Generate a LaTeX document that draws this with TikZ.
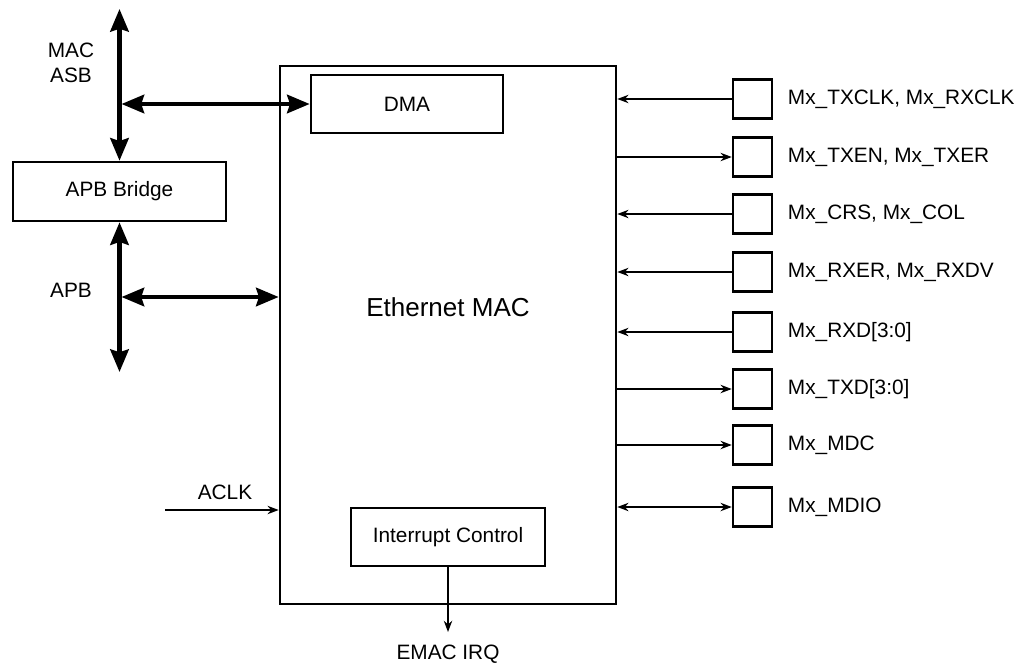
\documentclass[tikz,border=0pt]{standalone}
\usepackage{fontspec}
\setmainfont{Liberation Sans}
\usetikzlibrary{arrows.meta}

\begin{document}
\begin{tikzpicture}[
  x=0.025cm, y=-0.025cm,
  box/.style={draw, line width=1.8pt, inner sep=0pt, font=\fontsize{14.8}{17.8}\selectfont},
  pin/.style={draw, line width=1.8pt, minimum size=0.975cm, inner sep=0pt},
  lbl/.style={font=\fontsize{14.8}{17.8}\selectfont, align=center},
  bus/.style={line width=3.2pt, >={Stealth[length=16pt,width=13pt,inset=2pt]}, <->},
  sig/.style={line width=0.9pt, >={Stealth[length=8pt,width=6pt]}},
  rx/.style={<-}, tx/.style={->}, bidir/.style={<->}
]
\useasboundingbox (0,0) rectangle (1036,664);

\node[box, minimum width=8.4cm, minimum height=13.45cm] (mac) at (448,335) {};
\node[font=\fontsize{18.5}{22}\selectfont] (macname) at (448,307) {Ethernet MAC};
\node[box, minimum width=4.8cm, minimum height=1.45cm] (dma) at (407,104) {DMA};
\node[box, minimum width=4.85cm, minimum height=1.45cm] (irq) at (448,537) {Interrupt Control};
\node[box, minimum width=5.33cm, minimum height=1.475cm] (bridge) at (119.5,191.5) {APB Bridge};

\node[lbl] (asblbl) at (71,63) {MAC\\ASB};
\node[lbl] (apblbl) at (71,290) {APB};
\node[lbl] (aclklbl) at (225,492) {ACLK};
\node[lbl] (irqlbl) at (448,654) {EMAC IRQ};

\coordinate (asbtop) at (119.5,9);
\coordinate (asbjoin) at (121.5,104);
\coordinate (apbbot) at (119.5,372);
\coordinate (apbjoin) at (121.5,297);
\coordinate (aclkin) at (165,510);
\coordinate (irqout) at (448,632);

\draw[bus] (asbtop) -- (bridge.north);
\draw[bus] (asbjoin) -- (dma.west);
\draw[bus] (bridge.south) -- (apbbot);
\draw[bus] (apbjoin) -- (apbjoin -| mac.west);
\draw[sig, ->] (aclkin) -- (aclkin -| mac.west);
\draw[sig, ->] (irq.south) -- (irqout);

\foreach \y/\d/\t [count=\i] in {
  99/rx/{Mx\_TXCLK, Mx\_RXCLK},
  157/tx/{Mx\_TXEN, Mx\_TXER},
  214/rx/{Mx\_CRS, Mx\_COL},
  272/rx/{Mx\_RXER, Mx\_RXDV},
  332/rx/{Mx\_RXD[3:0]},
  389/tx/{Mx\_TXD[3:0]},
  445/tx/{Mx\_MDC},
  507/bidir/{Mx\_MDIO}} {
  \node[pin] (p\i) at (752.5,\y) {};
  \node[lbl, anchor=west] (t\i) at (783,\y) {\t};
  \draw[sig, \d] (mac.east |- p\i.west) -- (p\i.west);
}
\end{tikzpicture}
\end{document}
